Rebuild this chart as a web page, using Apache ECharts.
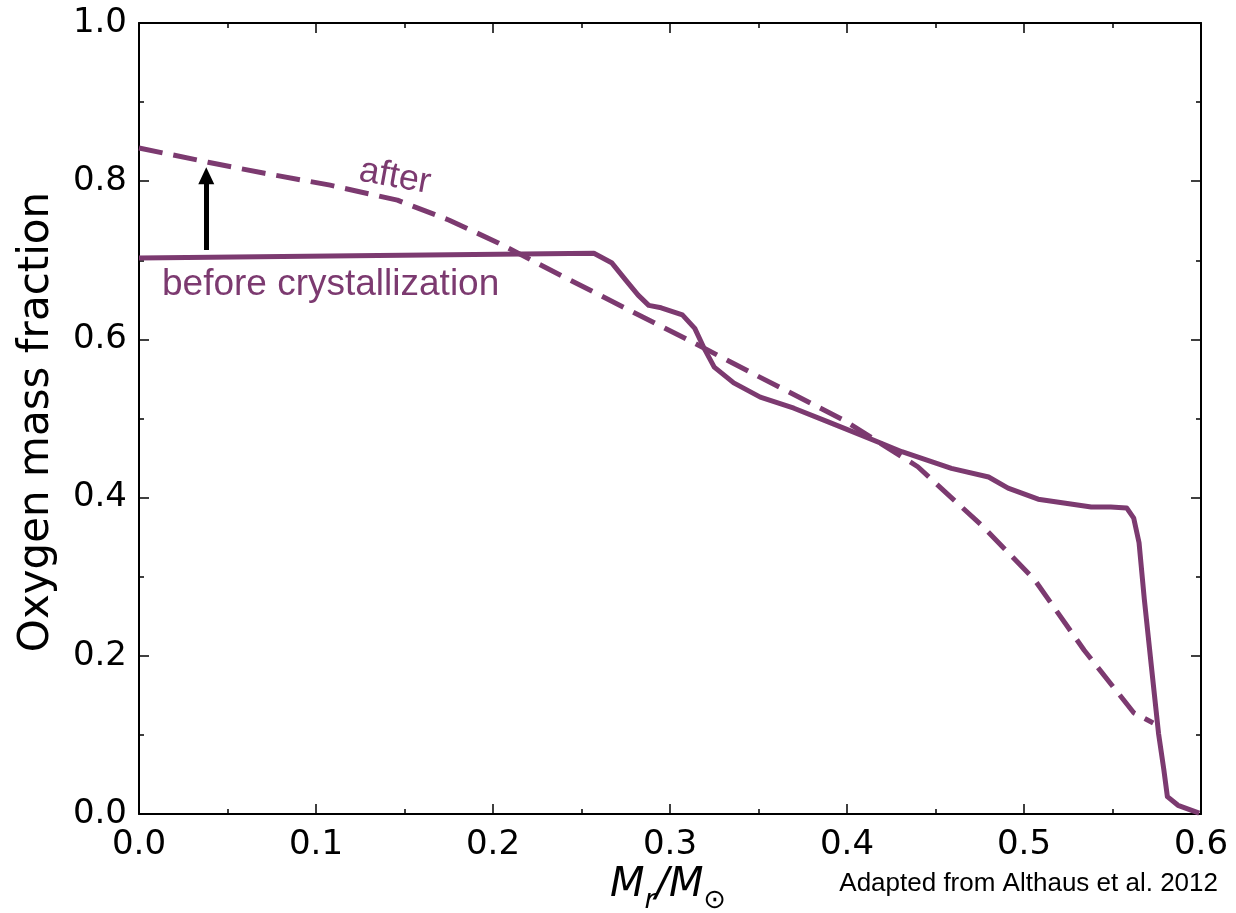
<!DOCTYPE html>
<html>
<head>
<meta charset="utf-8">
<script src="https://cdn.jsdelivr.net/npm/echarts@6/dist/echarts.min.js"></script>
<style>
  html, body { margin: 0; padding: 0; background: #fff; }
  #chart { width: 1236px; height: 913px; }
</style>
</head>
<body>
<div id="chart"></div>
<script>
// Oxygen profile before crystallization (solid)
const beforeX = [0.000, 0.257, 0.267, 0.275, 0.282, 0.288, 0.295, 0.307, 0.314, 0.319, 0.325, 0.336, 0.351, 0.370, 0.389, 0.408, 0.431, 0.459, 0.480, 0.491, 0.508, 0.538, 0.549, 0.558, 0.562, 0.565, 0.568, 0.572, 0.576, 0.579, 0.581, 0.587, 0.599];
const beforeY = [0.703, 0.709, 0.697, 0.675, 0.656, 0.643, 0.640, 0.631, 0.614, 0.590, 0.565, 0.545, 0.527, 0.513, 0.496, 0.479, 0.458, 0.437, 0.426, 0.412, 0.398, 0.388, 0.388, 0.387, 0.374, 0.343, 0.271, 0.186, 0.102, 0.056, 0.022, 0.011, 0.001];

// Oxygen profile after crystallization (dashed)
const afterX = [0.000, 0.039, 0.071, 0.108, 0.146, 0.175, 0.203, 0.240, 0.314, 0.351, 0.398, 0.440, 0.477, 0.506, 0.534, 0.562, 0.573];
const afterY = [0.842, 0.824, 0.810, 0.795, 0.776, 0.751, 0.722, 0.679, 0.595, 0.552, 0.498, 0.439, 0.363, 0.296, 0.207, 0.128, 0.115];

// Arrow from the initial to the enriched central abundance
const arrowX = 0.038;
const arrowFromY = 0.713;
const arrowToY = 0.807;

const xTicks = [0.0, 0.1, 0.2, 0.3, 0.4, 0.5, 0.6];
const yTicks = [0.0, 0.2, 0.4, 0.6, 0.8, 1.0];

const PURPLE = '#7c3a70';
const zip = (xs, ys) => xs.map((x, i) => [x, ys[i]]);

const chart = echarts.init(document.getElementById('chart'), null, { renderer: 'canvas' });

const axisCommon = {
  type: 'value',
  axisLine: { show: true, onZero: false, lineStyle: { color: '#000', width: 2 } },
  axisTick: { show: true, inside: true, length: 10, lineStyle: { color: '#000', width: 1.5 } },
  minorTick: { show: true, splitNumber: 2, length: 5, lineStyle: { color: '#000', width: 1.5 } },
  splitLine: { show: false },
  minorSplitLine: { show: false }
};

const mainLabel = {
  fontFamily: 'DejaVu Sans',
  fontSize: 34,
  color: '#000',
  formatter: v => v.toFixed(1)
};

chart.setOption({
  animation: false,
  backgroundColor: '#fff',
  grid: { left: 139, right: 35, top: 23, bottom: 99, containLabel: false },
  xAxis: [
    Object.assign({}, axisCommon, {
      position: 'bottom', min: xTicks[0], max: xTicks[xTicks.length - 1], interval: 0.1,
      axisLabel: Object.assign({ margin: 14 }, mainLabel)
    }),
    Object.assign({}, axisCommon, {
      position: 'top', min: xTicks[0], max: xTicks[xTicks.length - 1], interval: 0.1,
      axisLabel: { show: false }
    })
  ],
  yAxis: [
    Object.assign({}, axisCommon, {
      position: 'left', min: yTicks[0], max: yTicks[yTicks.length - 1], interval: 0.2,
      axisLabel: Object.assign({ margin: 12 }, mainLabel)
    }),
    Object.assign({}, axisCommon, {
      position: 'right', min: yTicks[0], max: yTicks[yTicks.length - 1], interval: 0.2,
      axisLabel: { show: false }
    })
  ],
  series: [
    {
      name: 'before crystallization',
      type: 'line',
      data: zip(beforeX, beforeY),
      showSymbol: false,
      symbol: 'none',
      lineStyle: { color: PURPLE, width: 5, join: 'round', cap: 'butt' },
      z: 3
    },
    {
      name: 'after',
      type: 'line',
      data: zip(afterX, afterY),
      showSymbol: false,
      symbol: 'none',
      lineStyle: { color: PURPLE, width: 5, type: [24, 11], join: 'round', cap: 'butt' },
      z: 3
    },
    {
      name: 'arrow',
      type: 'line',
      data: [],
      markLine: {
        silent: true,
        symbol: ['none', 'triangle'],
        symbolSize: [16, 17],
        label: { show: false },
        lineStyle: { color: '#000', width: 5, type: 'solid' },
        data: [[{ coord: [arrowX, arrowFromY] }, { coord: [arrowX, arrowToY] }]]
      },
      z: 4
    }
  ],
  graphic: [
    {
      type: 'text',
      left: 162, top: 266,
      style: {
        text: 'before crystallization',
        fontFamily: 'Liberation Sans', fontSize: 37, fill: PURPLE
      }
    },
    {
      type: 'text',
      x: 395, y: 177,
      rotation: -0.18,
      style: {
        text: 'after',
        fontFamily: 'Liberation Sans', fontSize: 36, fill: PURPLE,
        align: 'center', verticalAlign: 'middle'
      }
    },
    {
      type: 'text',
      x: 37, y: 422,
      rotation: Math.PI / 2,
      style: {
        text: 'Oxygen mass fraction',
        fontFamily: 'DejaVu Sans', fontSize: 42, fill: '#000',
        align: 'center', verticalAlign: 'middle'
      }
    },
    {
      type: 'text',
      x: 668, y: 866,
      style: {
        text: '{m|M}{s|r}{m|/M}{s|\u2299}',
        align: 'center', verticalAlign: 'top',
        rich: {
          m: { fontFamily: 'DejaVu Sans', fontStyle: 'italic', fontSize: 40, lineHeight: 48, verticalAlign: 'top', fill: '#000' },
          s: { fontFamily: 'DejaVu Sans', fontStyle: 'italic', fontSize: 27, lineHeight: 20, verticalAlign: 'bottom', fill: '#000' }
        }
      }
    },
    {
      type: 'text',
      x: 1218, y: 897,
      style: {
        text: 'Adapted from Althaus et al. 2012',
        fontFamily: 'Liberation Sans', fontSize: 26, fill: '#000',
        align: 'right', verticalAlign: 'bottom'
      }
    }
  ]
});
</script>
</body>
</html>
